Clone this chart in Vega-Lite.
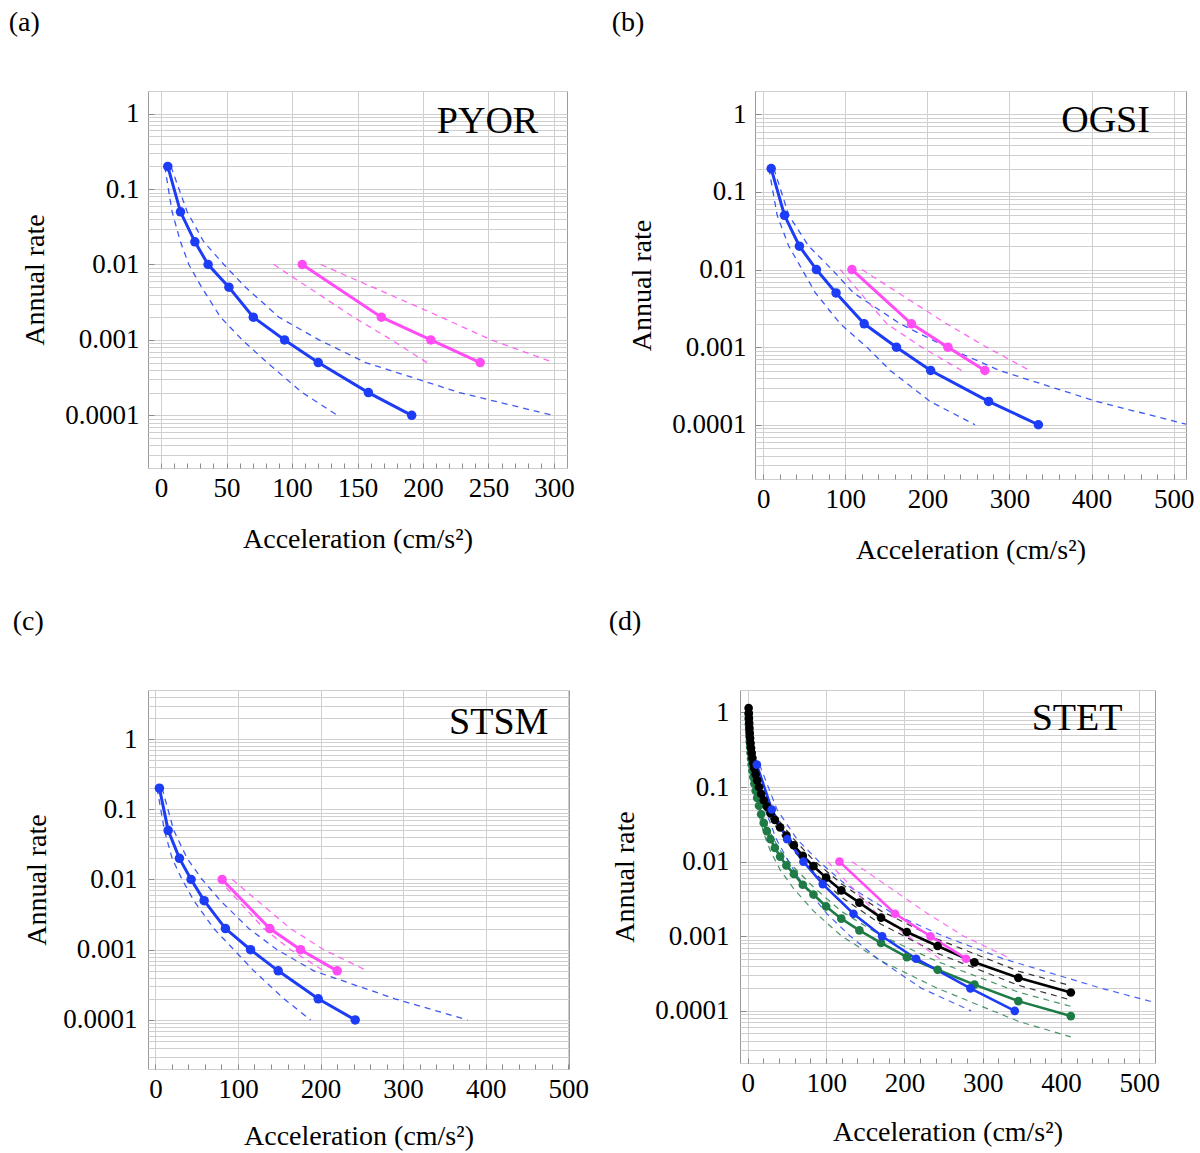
{
"$schema": "https://vega.github.io/schema/vega-lite/v6.json",
"background": "white",
"padding": {"left": 8, "top": 8, "right": 2, "bottom": 0},
"config": {
  "font": "Liberation Serif",
  "view": {"stroke": "#9a9a9a", "strokeWidth": 1},
  "axis": {"labelFont": "Liberation Serif", "titleFont": "Liberation Serif", "labelFontSize": 27, "titleFontSize": 28, "titleFontWeight": "normal", "labelColor": "#000", "titleColor": "#000", "domain": false, "gridColor": "#cfcfcf", "gridWidth": 1, "tickColor": "#8a8a8a", "labelFlush": false, "labelOverlap": false},
  "title": {"font": "Liberation Serif", "fontSize": 28, "fontWeight": "normal", "color": "#000", "anchor": "start", "frame": "bounds", "offset": 40}
},
"datasets": {
 "a": [
  {"series":"blue","kind":"lower","acc":2.8,"rate":0.2},{"series":"blue","kind":"lower","acc":8.4,"rate":0.05},{"series":"blue","kind":"lower","acc":14.8,"rate":0.02},{"series":"blue","kind":"lower","acc":21.2,"rate":0.01},{"series":"blue","kind":"lower","acc":30.9,"rate":0.005},{"series":"blue","kind":"lower","acc":45.4,"rate":0.002},{"series":"blue","kind":"lower","acc":62,"rate":0.001},{"series":"blue","kind":"lower","acc":81,"rate":0.0005},{"series":"blue","kind":"lower","acc":107.8,"rate":0.0002},{"series":"blue","kind":"lower","acc":134.6,"rate":0.0001},
  {"series":"blue","kind":"upper","acc":7.5,"rate":0.2},{"series":"blue","kind":"upper","acc":19.9,"rate":0.05},{"series":"blue","kind":"upper","acc":32.6,"rate":0.02},{"series":"blue","kind":"upper","acc":47.9,"rate":0.01},{"series":"blue","kind":"upper","acc":64.5,"rate":0.005},{"series":"blue","kind":"upper","acc":90,"rate":0.002},{"series":"blue","kind":"upper","acc":120.6,"rate":0.001},{"series":"blue","kind":"upper","acc":156.3,"rate":0.0005},{"series":"blue","kind":"upper","acc":228,"rate":0.0002},{"series":"blue","kind":"upper","acc":299,"rate":0.0001},
  {"series":"pink","kind":"lower","acc":86,"rate":0.01},{"series":"pink","kind":"lower","acc":147,"rate":0.002},{"series":"pink","kind":"lower","acc":176,"rate":0.001},{"series":"pink","kind":"lower","acc":203,"rate":0.0005},
  {"series":"pink","kind":"upper","acc":122,"rate":0.01},{"series":"pink","kind":"upper","acc":214,"rate":0.002},{"series":"pink","kind":"upper","acc":252,"rate":0.001},{"series":"pink","kind":"upper","acc":300,"rate":0.0005},
  {"series":"blue","kind":"main","acc":5.1,"rate":0.2},{"series":"blue","kind":"main","acc":14.8,"rate":0.05},{"series":"blue","kind":"main","acc":25.8,"rate":0.02},{"series":"blue","kind":"main","acc":35.9,"rate":0.01},{"series":"blue","kind":"main","acc":51.8,"rate":0.005},{"series":"blue","kind":"main","acc":70.4,"rate":0.002},{"series":"blue","kind":"main","acc":94.3,"rate":0.001},{"series":"blue","kind":"main","acc":120,"rate":0.0005},{"series":"blue","kind":"main","acc":158.3,"rate":0.0002},{"series":"blue","kind":"main","acc":191.4,"rate":0.0001},
  {"series":"pink","kind":"main","acc":107.8,"rate":0.01},{"series":"pink","kind":"main","acc":168.2,"rate":0.002},{"series":"pink","kind":"main","acc":206,"rate":0.001},{"series":"pink","kind":"main","acc":243.7,"rate":0.0005}
 ],
 "b": [
  {"series":"blue","kind":"lower","acc":6.9,"rate":0.2},{"series":"blue","kind":"lower","acc":17,"rate":0.05},{"series":"blue","kind":"lower","acc":31.2,"rate":0.02},{"series":"blue","kind":"lower","acc":47.4,"rate":0.01},{"series":"blue","kind":"lower","acc":63.6,"rate":0.005},{"series":"blue","kind":"lower","acc":93.9,"rate":0.002},{"series":"blue","kind":"lower","acc":126.3,"rate":0.001},{"series":"blue","kind":"lower","acc":154.7,"rate":0.0005},{"series":"blue","kind":"lower","acc":203.2,"rate":0.0002},{"series":"blue","kind":"lower","acc":258,"rate":0.0001},
  {"series":"blue","kind":"upper","acc":13,"rate":0.2},{"series":"blue","kind":"upper","acc":31.2,"rate":0.05},{"series":"blue","kind":"upper","acc":55.5,"rate":0.02},{"series":"blue","kind":"upper","acc":83.8,"rate":0.01},{"series":"blue","kind":"upper","acc":110,"rate":0.005},{"series":"blue","kind":"upper","acc":166.8,"rate":0.002},{"series":"blue","kind":"upper","acc":223.5,"rate":0.001},{"series":"blue","kind":"upper","acc":288,"rate":0.0005},{"series":"blue","kind":"upper","acc":405.7,"rate":0.0002},{"series":"blue","kind":"upper","acc":518,"rate":0.0001},
  {"series":"pink","kind":"lower","acc":93.9,"rate":0.01},{"series":"pink","kind":"lower","acc":150.6,"rate":0.002},{"series":"pink","kind":"lower","acc":193,"rate":0.001},{"series":"pink","kind":"lower","acc":241.7,"rate":0.0005},
  {"series":"pink","kind":"upper","acc":120.2,"rate":0.01},{"series":"pink","kind":"upper","acc":223.5,"rate":0.002},{"series":"pink","kind":"upper","acc":272,"rate":0.001},{"series":"pink","kind":"upper","acc":324.7,"rate":0.0005},
  {"series":"blue","kind":"main","acc":9.7,"rate":0.2},{"series":"blue","kind":"main","acc":25.9,"rate":0.05},{"series":"blue","kind":"main","acc":44.1,"rate":0.02},{"series":"blue","kind":"main","acc":64.8,"rate":0.01},{"series":"blue","kind":"main","acc":88.7,"rate":0.005},{"series":"blue","kind":"main","acc":123,"rate":0.002},{"series":"blue","kind":"main","acc":162.3,"rate":0.001},{"series":"blue","kind":"main","acc":204,"rate":0.0005},{"series":"blue","kind":"main","acc":274.5,"rate":0.0002},{"series":"blue","kind":"main","acc":335.2,"rate":0.0001},
  {"series":"pink","kind":"main","acc":108.1,"rate":0.01},{"series":"pink","kind":"main","acc":180.6,"rate":0.002},{"series":"pink","kind":"main","acc":225,"rate":0.001},{"series":"pink","kind":"main","acc":270,"rate":0.0005}
 ],
 "c": [
  {"series":"blue","kind":"lower","acc":2,"rate":0.2},{"series":"blue","kind":"lower","acc":10.9,"rate":0.05},{"series":"blue","kind":"lower","acc":20.2,"rate":0.02},{"series":"blue","kind":"lower","acc":32.3,"rate":0.01},{"series":"blue","kind":"lower","acc":46.5,"rate":0.005},{"series":"blue","kind":"lower","acc":70.7,"rate":0.002},{"series":"blue","kind":"lower","acc":95,"rate":0.001},{"series":"blue","kind":"lower","acc":119.2,"rate":0.0005},{"series":"blue","kind":"lower","acc":155.6,"rate":0.0002},{"series":"blue","kind":"lower","acc":187.9,"rate":0.0001},
  {"series":"blue","kind":"upper","acc":8,"rate":0.2},{"series":"blue","kind":"upper","acc":22.2,"rate":0.05},{"series":"blue","kind":"upper","acc":38.4,"rate":0.02},{"series":"blue","kind":"upper","acc":56.6,"rate":0.01},{"series":"blue","kind":"upper","acc":78.8,"rate":0.005},{"series":"blue","kind":"upper","acc":113.1,"rate":0.002},{"series":"blue","kind":"upper","acc":147.5,"rate":0.001},{"series":"blue","kind":"upper","acc":192,"rate":0.0005},{"series":"blue","kind":"upper","acc":290,"rate":0.0002},{"series":"blue","kind":"upper","acc":378,"rate":0.0001},
  {"series":"pink","kind":"lower","acc":76.8,"rate":0.01},{"series":"pink","kind":"lower","acc":131.3,"rate":0.002},{"series":"pink","kind":"lower","acc":163.6,"rate":0.001},{"series":"pink","kind":"lower","acc":204,"rate":0.0005},
  {"series":"pink","kind":"upper","acc":93,"rate":0.01},{"series":"pink","kind":"upper","acc":163.6,"rate":0.002},{"series":"pink","kind":"upper","acc":204,"rate":0.001},{"series":"pink","kind":"upper","acc":256.6,"rate":0.0005},
  {"series":"blue","kind":"main","acc":4.8,"rate":0.2},{"series":"blue","kind":"main","acc":15.4,"rate":0.05},{"series":"blue","kind":"main","acc":29.1,"rate":0.02},{"series":"blue","kind":"main","acc":43.2,"rate":0.01},{"series":"blue","kind":"main","acc":59,"rate":0.005},{"series":"blue","kind":"main","acc":84.8,"rate":0.002},{"series":"blue","kind":"main","acc":115.2,"rate":0.001},{"series":"blue","kind":"main","acc":148.7,"rate":0.0005},{"series":"blue","kind":"main","acc":197.2,"rate":0.0002},{"series":"blue","kind":"main","acc":242,"rate":0.0001},
  {"series":"pink","kind":"main","acc":80.8,"rate":0.01},{"series":"pink","kind":"main","acc":138.6,"rate":0.002},{"series":"pink","kind":"main","acc":175.8,"rate":0.001},{"series":"pink","kind":"main","acc":220.2,"rate":0.0005}
 ],
 "d": [
  {"series":"green","kind":"lower","acc":1,"rate":0.891},{"series":"green","kind":"lower","acc":2.031,"rate":0.432},{"series":"green","kind":"lower","acc":4.125,"rate":0.204},{"series":"green","kind":"lower","acc":7.017,"rate":0.111},{"series":"green","kind":"lower","acc":10,"rate":0.0708},{"series":"green","kind":"lower","acc":14.25,"rate":0.0427},{"series":"green","kind":"lower","acc":20.31,"rate":0.024},{"series":"green","kind":"lower","acc":28.94,"rate":0.0138},{"series":"green","kind":"lower","acc":41.25,"rate":0.00776},{"series":"green","kind":"lower","acc":58.78,"rate":0.00432},{"series":"green","kind":"lower","acc":83.77,"rate":0.00219},{"series":"green","kind":"lower","acc":119.4,"rate":0.00101},{"series":"green","kind":"lower","acc":170.1,"rate":0.000468},{"series":"green","kind":"lower","acc":242.4,"rate":0.0002},{"series":"green","kind":"lower","acc":345.5,"rate":0.0000724},{"series":"green","kind":"lower","acc":412.5,"rate":0.0000447},
  {"series":"green","kind":"upper","acc":1,"rate":1.0},{"series":"green","kind":"upper","acc":2.031,"rate":0.519},{"series":"green","kind":"upper","acc":4.125,"rate":0.263},{"series":"green","kind":"upper","acc":7.017,"rate":0.153},{"series":"green","kind":"upper","acc":10,"rate":0.1},{"series":"green","kind":"upper","acc":14.25,"rate":0.0646},{"series":"green","kind":"upper","acc":20.31,"rate":0.0389},{"series":"green","kind":"upper","acc":28.94,"rate":0.024},{"series":"green","kind":"upper","acc":41.25,"rate":0.0141},{"series":"green","kind":"upper","acc":58.78,"rate":0.00841},{"series":"green","kind":"upper","acc":83.77,"rate":0.00457},{"series":"green","kind":"upper","acc":119.4,"rate":0.00216},{"series":"green","kind":"upper","acc":170.1,"rate":0.00102},{"series":"green","kind":"upper","acc":242.4,"rate":0.000457},{"series":"green","kind":"upper","acc":345.5,"rate":0.000178},{"series":"green","kind":"upper","acc":412.5,"rate":0.000115},
  {"series":"black","kind":"lower","acc":1,"rate":1.096},{"series":"black","kind":"lower","acc":2.031,"rate":0.578},{"series":"black","kind":"lower","acc":4.125,"rate":0.305},{"series":"black","kind":"lower","acc":7.017,"rate":0.186},{"series":"black","kind":"lower","acc":10,"rate":0.132},{"series":"black","kind":"lower","acc":14.25,"rate":0.0871},{"series":"black","kind":"lower","acc":20.31,"rate":0.0579},{"series":"black","kind":"lower","acc":28.94,"rate":0.038},{"series":"black","kind":"lower","acc":41.25,"rate":0.0245},{"series":"black","kind":"lower","acc":58.78,"rate":0.0138},{"series":"black","kind":"lower","acc":83.77,"rate":0.00724},{"series":"black","kind":"lower","acc":119.4,"rate":0.00335},{"series":"black","kind":"lower","acc":170.1,"rate":0.00145},{"series":"black","kind":"lower","acc":242.4,"rate":0.000589},{"series":"black","kind":"lower","acc":345.5,"rate":0.00022},{"series":"black","kind":"lower","acc":412.5,"rate":0.00014},
  {"series":"black","kind":"upper","acc":1,"rate":1.202},{"series":"black","kind":"upper","acc":2.031,"rate":0.664},{"series":"black","kind":"upper","acc":4.125,"rate":0.366},{"series":"black","kind":"upper","acc":7.017,"rate":0.234},{"series":"black","kind":"upper","acc":10,"rate":0.166},{"series":"black","kind":"upper","acc":14.25,"rate":0.115},{"series":"black","kind":"upper","acc":20.31,"rate":0.0764},{"series":"black","kind":"upper","acc":28.94,"rate":0.0525},{"series":"black","kind":"upper","acc":41.25,"rate":0.0339},{"series":"black","kind":"upper","acc":58.78,"rate":0.02},{"series":"black","kind":"upper","acc":83.77,"rate":0.0105},{"series":"black","kind":"upper","acc":119.4,"rate":0.00507},{"series":"black","kind":"upper","acc":170.1,"rate":0.00219},{"series":"black","kind":"upper","acc":242.4,"rate":0.000912},{"series":"black","kind":"upper","acc":345.5,"rate":0.000341},{"series":"black","kind":"upper","acc":412.5,"rate":0.000217},
  {"series":"blue","kind":"lower","acc":8.5,"rate":0.2},{"series":"blue","kind":"lower","acc":22,"rate":0.05},{"series":"blue","kind":"lower","acc":36.5,"rate":0.02},{"series":"blue","kind":"lower","acc":52,"rate":0.01},{"series":"blue","kind":"lower","acc":70,"rate":0.005},{"series":"blue","kind":"lower","acc":101,"rate":0.002},{"series":"blue","kind":"lower","acc":131,"rate":0.001},{"series":"blue","kind":"lower","acc":166,"rate":0.0005},{"series":"blue","kind":"lower","acc":222,"rate":0.0002},{"series":"blue","kind":"lower","acc":285,"rate":0.0001},
  {"series":"blue","kind":"upper","acc":15,"rate":0.2},{"series":"blue","kind":"upper","acc":37.3,"rate":0.05},{"series":"blue","kind":"upper","acc":62.8,"rate":0.02},{"series":"blue","kind":"upper","acc":91,"rate":0.01},{"series":"blue","kind":"upper","acc":124.4,"rate":0.005},{"series":"blue","kind":"upper","acc":186,"rate":0.002},{"series":"blue","kind":"upper","acc":250,"rate":0.001},{"series":"blue","kind":"upper","acc":326,"rate":0.0005},{"series":"blue","kind":"upper","acc":452,"rate":0.0002},{"series":"blue","kind":"upper","acc":560,"rate":0.0001},
  {"series":"pink","kind":"lower","acc":102,"rate":0.01},{"series":"pink","kind":"lower","acc":165,"rate":0.002},{"series":"pink","kind":"lower","acc":205,"rate":0.001},{"series":"pink","kind":"lower","acc":245,"rate":0.0005},
  {"series":"pink","kind":"upper","acc":133,"rate":0.01},{"series":"pink","kind":"upper","acc":230,"rate":0.002},{"series":"pink","kind":"upper","acc":276,"rate":0.001},{"series":"pink","kind":"upper","acc":336,"rate":0.0005},
  {"series":"green","kind":"main","acc":1,"rate":0.955},{"series":"green","kind":"main","acc":1.194,"rate":0.813},{"series":"green","kind":"main","acc":1.425,"rate":0.684},{"series":"green","kind":"main","acc":1.701,"rate":0.575},{"series":"green","kind":"main","acc":2.031,"rate":0.484},{"series":"green","kind":"main","acc":2.424,"rate":0.407},{"series":"green","kind":"main","acc":2.894,"rate":0.343},{"series":"green","kind":"main","acc":3.455,"rate":0.288},{"series":"green","kind":"main","acc":4.125,"rate":0.24},{"series":"green","kind":"main","acc":4.924,"rate":0.2},{"series":"green","kind":"main","acc":5.878,"rate":0.166},{"series":"green","kind":"main","acc":7.017,"rate":0.136},{"series":"green","kind":"main","acc":8.377,"rate":0.111},{"series":"green","kind":"main","acc":10,"rate":0.0891},{"series":"green","kind":"main","acc":11.94,"rate":0.0716},{"series":"green","kind":"main","acc":14.25,"rate":0.0562},{"series":"green","kind":"main","acc":17.01,"rate":0.0432},{"series":"green","kind":"main","acc":20.31,"rate":0.0331},{"series":"green","kind":"main","acc":24.24,"rate":0.0257},{"series":"green","kind":"main","acc":28.94,"rate":0.02},{"series":"green","kind":"main","acc":34.55,"rate":0.0153},{"series":"green","kind":"main","acc":41.25,"rate":0.0117},{"series":"green","kind":"main","acc":49.24,"rate":0.00891},{"series":"green","kind":"main","acc":58.78,"rate":0.00684},{"series":"green","kind":"main","acc":70.17,"rate":0.0049},{"series":"green","kind":"main","acc":83.77,"rate":0.00363},{"series":"green","kind":"main","acc":100,"rate":0.00251},{"series":"green","kind":"main","acc":119.4,"rate":0.00172},{"series":"green","kind":"main","acc":142.5,"rate":0.0012},{"series":"green","kind":"main","acc":170.1,"rate":0.000813},{"series":"green","kind":"main","acc":203.1,"rate":0.000525},{"series":"green","kind":"main","acc":242.4,"rate":0.000355},{"series":"green","kind":"main","acc":289.4,"rate":0.000225},{"series":"green","kind":"main","acc":345.5,"rate":0.000135},{"series":"green","kind":"main","acc":412.5,"rate":0.0000851},
  {"series":"black","kind":"main","acc":1,"rate":1.148},{"series":"black","kind":"main","acc":1.194,"rate":0.984},{"series":"black","kind":"main","acc":1.425,"rate":0.843},{"series":"black","kind":"main","acc":1.701,"rate":0.723},{"series":"black","kind":"main","acc":2.031,"rate":0.619},{"series":"black","kind":"main","acc":2.424,"rate":0.531},{"series":"black","kind":"main","acc":2.894,"rate":0.455},{"series":"black","kind":"main","acc":3.455,"rate":0.39},{"series":"black","kind":"main","acc":4.125,"rate":0.334},{"series":"black","kind":"main","acc":4.924,"rate":0.286},{"series":"black","kind":"main","acc":5.878,"rate":0.245},{"series":"black","kind":"main","acc":7.017,"rate":0.209},{"series":"black","kind":"main","acc":8.377,"rate":0.178},{"series":"black","kind":"main","acc":10,"rate":0.148},{"series":"black","kind":"main","acc":11.94,"rate":0.123},{"series":"black","kind":"main","acc":14.25,"rate":0.1},{"series":"black","kind":"main","acc":17.01,"rate":0.0813},{"series":"black","kind":"main","acc":20.31,"rate":0.0665},{"series":"black","kind":"main","acc":24.24,"rate":0.055},{"series":"black","kind":"main","acc":28.94,"rate":0.0447},{"series":"black","kind":"main","acc":34.55,"rate":0.0363},{"series":"black","kind":"main","acc":41.25,"rate":0.0288},{"series":"black","kind":"main","acc":49.24,"rate":0.0224},{"series":"black","kind":"main","acc":58.78,"rate":0.0166},{"series":"black","kind":"main","acc":70.17,"rate":0.012},{"series":"black","kind":"main","acc":83.77,"rate":0.00871},{"series":"black","kind":"main","acc":100,"rate":0.0061},{"series":"black","kind":"main","acc":119.4,"rate":0.00412},{"series":"black","kind":"main","acc":142.5,"rate":0.00282},{"series":"black","kind":"main","acc":170.1,"rate":0.00178},{"series":"black","kind":"main","acc":203.1,"rate":0.00114},{"series":"black","kind":"main","acc":242.4,"rate":0.000741},{"series":"black","kind":"main","acc":289.4,"rate":0.000447},{"series":"black","kind":"main","acc":345.5,"rate":0.000277},{"series":"black","kind":"main","acc":412.5,"rate":0.000176},
  {"series":"blue","kind":"main","acc":11.5,"rate":0.2},{"series":"blue","kind":"main","acc":30.6,"rate":0.05},{"series":"blue","kind":"main","acc":50.2,"rate":0.02},{"series":"blue","kind":"main","acc":71,"rate":0.01},{"series":"blue","kind":"main","acc":95.7,"rate":0.005},{"series":"blue","kind":"main","acc":134.9,"rate":0.002},{"series":"blue","kind":"main","acc":171.5,"rate":0.001},{"series":"blue","kind":"main","acc":214.9,"rate":0.0005},{"series":"blue","kind":"main","acc":284.3,"rate":0.0002},{"series":"blue","kind":"main","acc":340.9,"rate":0.0001},
  {"series":"pink","kind":"main","acc":117,"rate":0.01},{"series":"pink","kind":"main","acc":188,"rate":0.002},{"series":"pink","kind":"main","acc":233.2,"rate":0.001},{"series":"pink","kind":"main","acc":278.7,"rate":0.0005}
 ]
},
"spacing": 42,
"vconcat": [
 {"spacing": 36, "hconcat": [
  {"title": {"text": "(a)", "dx": -13}, "width": 419, "height": 377,
   "layer": [
    {"data": {"name": "a"},
     "encoding": {
      "x": {"field": "acc", "type": "quantitative", "scale": {"domain": [-10, 310], "nice": false, "zero": false},
        "axis": {"title": "Acceleration (cm/s²)", "values": [0,10,20,30,40,50,60,70,80,90,100,110,120,130,140,150,160,170,180,190,200,210,220,230,240,250,260,270,280,290,300], "labelExpr": "datum.value % 50 === 0 ? datum.label : ''", "gridOpacity": {"condition": {"test": "datum.value % 50 === 0", "value": 1}, "value": 0}, "tickSize": -5, "labelPadding": 12, "titlePadding": 24}},
      "y": {"field": "rate", "type": "quantitative", "scale": {"type": "log", "domain": [0.00002, 2], "nice": false},
        "axis": {"title": "Annual rate", "values": [0.00002,0.00003,0.00004,0.00005,0.00006,0.00007,0.00008,0.00009,0.0001,0.0002,0.0003,0.0004,0.0005,0.0006,0.0007,0.0008,0.0009,0.001,0.002,0.003,0.004,0.005,0.006,0.007,0.008,0.009,0.01,0.02,0.03,0.04,0.05,0.06,0.07,0.08,0.09,0.1,0.2,0.3,0.4,0.5,0.6,0.7,0.8,0.9,1,2], "format": "~g", "labelExpr": "abs(log(datum.value)/LN10 - round(log(datum.value)/LN10)) < 0.0001 ? datum.label : ''", "tickSize": -6, "tickOpacity": {"condition": {"test": "abs(log(datum.value)/LN10 - round(log(datum.value)/LN10)) < 0.0001", "value": 1}, "value": 0}, "labelPadding": 15, "titlePadding": 15}},
      "color": {"field": "series", "type": "nominal", "scale": {"domain": ["green","black","blue","pink"], "range": ["#1e7b45","#000000","#1c3cf5","#ff4cf5"]}, "legend": null}},
     "layer": [
      {"transform": [{"filter": "datum.kind != 'main'"}], "mark": {"type": "line", "strokeWidth": 1.3, "strokeDash": [6,5], "opacity": 0.85, "clip": true}, "encoding": {"detail": {"field": "kind"}}},
      {"transform": [{"filter": "datum.kind == 'main'"}], "mark": {"type": "line", "strokeWidth": 3, "clip": true}},
      {"transform": [{"filter": "datum.kind == 'main'"}], "mark": {"type": "circle", "size": 90, "opacity": 1, "clip": true}}
     ]},
    {"data": {"values": [{"station": "PYOR"}]}, "mark": {"type": "text", "align": "right", "baseline": "alphabetic", "fontSize": 38, "font": "Liberation Serif", "color": "#000"},
     "encoding": {
      "x": {"datum": 288, "type": "quantitative", "scale": {"domain": [-10, 310], "nice": false, "zero": false},
        "axis": {"title": "Acceleration (cm/s²)", "values": [0,10,20,30,40,50,60,70,80,90,100,110,120,130,140,150,160,170,180,190,200,210,220,230,240,250,260,270,280,290,300], "labelExpr": "datum.value % 50 === 0 ? datum.label : ''", "gridOpacity": {"condition": {"test": "datum.value % 50 === 0", "value": 1}, "value": 0}, "tickSize": -5, "labelPadding": 12, "titlePadding": 24}},
      "y": {"datum": 0.55, "type": "quantitative", "scale": {"type": "log", "domain": [0.00002, 2], "nice": false},
        "axis": {"title": "Annual rate", "values": [0.00002,0.00003,0.00004,0.00005,0.00006,0.00007,0.00008,0.00009,0.0001,0.0002,0.0003,0.0004,0.0005,0.0006,0.0007,0.0008,0.0009,0.001,0.002,0.003,0.004,0.005,0.006,0.007,0.008,0.009,0.01,0.02,0.03,0.04,0.05,0.06,0.07,0.08,0.09,0.1,0.2,0.3,0.4,0.5,0.6,0.7,0.8,0.9,1,2], "format": "~g", "labelExpr": "abs(log(datum.value)/LN10 - round(log(datum.value)/LN10)) < 0.0001 ? datum.label : ''", "tickSize": -6, "tickOpacity": {"condition": {"test": "abs(log(datum.value)/LN10 - round(log(datum.value)/LN10)) < 0.0001", "value": 1}, "value": 0}, "labelPadding": 15, "titlePadding": 15}},
      "text": {"field": "station"}}}
   ]},
  {"title": {"text": "(b)", "dx": -17}, "width": 431, "height": 388,
   "layer": [
    {"data": {"name": "b"},
     "encoding": {
      "x": {"field": "acc", "type": "quantitative", "scale": {"domain": [-10, 515], "nice": false, "zero": false},
        "axis": {"title": "Acceleration (cm/s²)", "values": [0,20,40,60,80,100,120,140,160,180,200,220,240,260,280,300,320,340,360,380,400,420,440,460,480,500], "labelExpr": "datum.value % 100 === 0 ? datum.label : ''", "gridOpacity": {"condition": {"test": "datum.value % 100 === 0", "value": 1}, "value": 0}, "tickSize": -5, "labelPadding": 12, "titlePadding": 24}},
      "y": {"field": "rate", "type": "quantitative", "scale": {"type": "log", "domain": [0.00002, 2], "nice": false},
        "axis": {"title": "Annual rate", "values": [0.00002,0.00003,0.00004,0.00005,0.00006,0.00007,0.00008,0.00009,0.0001,0.0002,0.0003,0.0004,0.0005,0.0006,0.0007,0.0008,0.0009,0.001,0.002,0.003,0.004,0.005,0.006,0.007,0.008,0.009,0.01,0.02,0.03,0.04,0.05,0.06,0.07,0.08,0.09,0.1,0.2,0.3,0.4,0.5,0.6,0.7,0.8,0.9,1,2], "format": "~g", "labelExpr": "abs(log(datum.value)/LN10 - round(log(datum.value)/LN10)) < 0.0001 ? datum.label : ''", "tickSize": -6, "tickOpacity": {"condition": {"test": "abs(log(datum.value)/LN10 - round(log(datum.value)/LN10)) < 0.0001", "value": 1}, "value": 0}, "labelPadding": 15, "titlePadding": 15}},
      "color": {"field": "series", "type": "nominal", "scale": {"domain": ["green","black","blue","pink"], "range": ["#1e7b45","#000000","#1c3cf5","#ff4cf5"]}, "legend": null}},
     "layer": [
      {"transform": [{"filter": "datum.kind != 'main'"}], "mark": {"type": "line", "strokeWidth": 1.3, "strokeDash": [6,5], "opacity": 0.85, "clip": true}, "encoding": {"detail": {"field": "kind"}}},
      {"transform": [{"filter": "datum.kind == 'main'"}], "mark": {"type": "line", "strokeWidth": 3, "clip": true}},
      {"transform": [{"filter": "datum.kind == 'main'"}], "mark": {"type": "circle", "size": 90, "opacity": 1, "clip": true}}
     ]},
    {"data": {"values": [{"station": "OGSI"}]}, "mark": {"type": "text", "align": "right", "baseline": "alphabetic", "fontSize": 38, "font": "Liberation Serif", "color": "#000"},
     "encoding": {
      "x": {"datum": 471, "type": "quantitative", "scale": {"domain": [-10, 515], "nice": false, "zero": false},
        "axis": {"title": "Acceleration (cm/s²)", "values": [0,20,40,60,80,100,120,140,160,180,200,220,240,260,280,300,320,340,360,380,400,420,440,460,480,500], "labelExpr": "datum.value % 100 === 0 ? datum.label : ''", "gridOpacity": {"condition": {"test": "datum.value % 100 === 0", "value": 1}, "value": 0}, "tickSize": -5, "labelPadding": 12, "titlePadding": 24}},
      "y": {"datum": 0.59, "type": "quantitative", "scale": {"type": "log", "domain": [0.00002, 2], "nice": false},
        "axis": {"title": "Annual rate", "values": [0.00002,0.00003,0.00004,0.00005,0.00006,0.00007,0.00008,0.00009,0.0001,0.0002,0.0003,0.0004,0.0005,0.0006,0.0007,0.0008,0.0009,0.001,0.002,0.003,0.004,0.005,0.006,0.007,0.008,0.009,0.01,0.02,0.03,0.04,0.05,0.06,0.07,0.08,0.09,0.1,0.2,0.3,0.4,0.5,0.6,0.7,0.8,0.9,1,2], "format": "~g", "labelExpr": "abs(log(datum.value)/LN10 - round(log(datum.value)/LN10)) < 0.0001 ? datum.label : ''", "tickSize": -6, "tickOpacity": {"condition": {"test": "abs(log(datum.value)/LN10 - round(log(datum.value)/LN10)) < 0.0001", "value": 1}, "value": 0}, "labelPadding": 15, "titlePadding": 15}},
      "text": {"field": "station"}}}
   ]}
 ]},
 {"spacing": 19, "hconcat": [
  {"title": {"text": "(c)", "dx": -11}, "width": 421, "height": 379,
   "layer": [
    {"data": {"name": "c"},
     "encoding": {
      "x": {"field": "acc", "type": "quantitative", "scale": {"domain": [-9, 501], "nice": false, "zero": false},
        "axis": {"title": "Acceleration (cm/s²)", "values": [0,20,40,60,80,100,120,140,160,180,200,220,240,260,280,300,320,340,360,380,400,420,440,460,480,500], "labelExpr": "datum.value % 100 === 0 ? datum.label : ''", "gridOpacity": {"condition": {"test": "datum.value % 100 === 0", "value": 1}, "value": 0}, "tickSize": -5, "labelPadding": 12, "titlePadding": 20}},
      "y": {"field": "rate", "type": "quantitative", "scale": {"type": "log", "domain": [0.00002, 5], "nice": false},
        "axis": {"title": "Annual rate", "values": [0.00002,0.00003,0.00004,0.00005,0.00006,0.00007,0.00008,0.00009,0.0001,0.0002,0.0003,0.0004,0.0005,0.0006,0.0007,0.0008,0.0009,0.001,0.002,0.003,0.004,0.005,0.006,0.007,0.008,0.009,0.01,0.02,0.03,0.04,0.05,0.06,0.07,0.08,0.09,0.1,0.2,0.3,0.4,0.5,0.6,0.7,0.8,0.9,1,2,3,4,5], "format": "~g", "labelExpr": "abs(log(datum.value)/LN10 - round(log(datum.value)/LN10)) < 0.0001 ? datum.label : ''", "tickSize": -6, "tickOpacity": {"condition": {"test": "abs(log(datum.value)/LN10 - round(log(datum.value)/LN10)) < 0.0001", "value": 1}, "value": 0}, "labelPadding": 17, "titlePadding": 11}},
      "color": {"field": "series", "type": "nominal", "scale": {"domain": ["green","black","blue","pink"], "range": ["#1e7b45","#000000","#1c3cf5","#ff4cf5"]}, "legend": null}},
     "layer": [
      {"transform": [{"filter": "datum.kind != 'main'"}], "mark": {"type": "line", "strokeWidth": 1.3, "strokeDash": [6,5], "opacity": 0.85, "clip": true}, "encoding": {"detail": {"field": "kind"}}},
      {"transform": [{"filter": "datum.kind == 'main'"}], "mark": {"type": "line", "strokeWidth": 3, "clip": true}},
      {"transform": [{"filter": "datum.kind == 'main'"}], "mark": {"type": "circle", "size": 90, "opacity": 1, "clip": true}}
     ]},
    {"data": {"values": [{"station": "STSM"}]}, "mark": {"type": "text", "align": "right", "baseline": "alphabetic", "fontSize": 38, "font": "Liberation Serif", "color": "#000"},
     "encoding": {
      "x": {"datum": 476, "type": "quantitative", "scale": {"domain": [-9, 501], "nice": false, "zero": false},
        "axis": {"title": "Acceleration (cm/s²)", "values": [0,20,40,60,80,100,120,140,160,180,200,220,240,260,280,300,320,340,360,380,400,420,440,460,480,500], "labelExpr": "datum.value % 100 === 0 ? datum.label : ''", "gridOpacity": {"condition": {"test": "datum.value % 100 === 0", "value": 1}, "value": 0}, "tickSize": -5, "labelPadding": 12, "titlePadding": 20}},
      "y": {"datum": 1.18, "type": "quantitative", "scale": {"type": "log", "domain": [0.00002, 5], "nice": false},
        "axis": {"title": "Annual rate", "values": [0.00002,0.00003,0.00004,0.00005,0.00006,0.00007,0.00008,0.00009,0.0001,0.0002,0.0003,0.0004,0.0005,0.0006,0.0007,0.0008,0.0009,0.001,0.002,0.003,0.004,0.005,0.006,0.007,0.008,0.009,0.01,0.02,0.03,0.04,0.05,0.06,0.07,0.08,0.09,0.1,0.2,0.3,0.4,0.5,0.6,0.7,0.8,0.9,1,2,3,4,5], "format": "~g", "labelExpr": "abs(log(datum.value)/LN10 - round(log(datum.value)/LN10)) < 0.0001 ? datum.label : ''", "tickSize": -6, "tickOpacity": {"condition": {"test": "abs(log(datum.value)/LN10 - round(log(datum.value)/LN10)) < 0.0001", "value": 1}, "value": 0}, "labelPadding": 17, "titlePadding": 11}},
      "text": {"field": "station"}}}
   ]},
  {"title": {"text": "(d)", "dx": -3}, "width": 415, "height": 373,
   "layer": [
    {"data": {"name": "d"},
     "encoding": {
      "x": {"field": "acc", "type": "quantitative", "scale": {"domain": [-10, 520], "nice": false, "zero": false},
        "axis": {"title": "Acceleration (cm/s²)", "values": [0,20,40,60,80,100,120,140,160,180,200,220,240,260,280,300,320,340,360,380,400,420,440,460,480,500], "labelExpr": "datum.value % 100 === 0 ? datum.label : ''", "gridOpacity": {"condition": {"test": "datum.value % 100 === 0", "value": 1}, "value": 0}, "tickSize": -5, "labelPadding": 12, "titlePadding": 22}},
      "y": {"field": "rate", "type": "quantitative", "scale": {"type": "log", "domain": [0.00002, 2], "nice": false},
        "axis": {"title": "Annual rate", "values": [0.00002,0.00003,0.00004,0.00005,0.00006,0.00007,0.00008,0.00009,0.0001,0.0002,0.0003,0.0004,0.0005,0.0006,0.0007,0.0008,0.0009,0.001,0.002,0.003,0.004,0.005,0.006,0.007,0.008,0.009,0.01,0.02,0.03,0.04,0.05,0.06,0.07,0.08,0.09,0.1,0.2,0.3,0.4,0.5,0.6,0.7,0.8,0.9,1,2], "format": "~g", "labelExpr": "abs(log(datum.value)/LN10 - round(log(datum.value)/LN10)) < 0.0001 ? datum.label : ''", "tickSize": -6, "tickOpacity": {"condition": {"test": "abs(log(datum.value)/LN10 - round(log(datum.value)/LN10)) < 0.0001", "value": 1}, "value": 0}, "labelPadding": 17, "titlePadding": 15}},
      "color": {"field": "series", "type": "nominal", "scale": {"domain": ["green","black","blue","pink"], "range": ["#1e7b45","#000000","#1c3cf5","#ff4cf5"]}, "legend": null}},
     "layer": [
      {"transform": [{"filter": "datum.kind != 'main'"}], "mark": {"type": "line", "strokeWidth": 1.2, "strokeDash": [6,5], "opacity": 0.8, "clip": true}, "encoding": {"detail": {"field": "kind"}}},
      {"transform": [{"filter": "datum.kind == 'main'"}], "mark": {"type": "line", "strokeWidth": 2.6, "clip": true}},
      {"transform": [{"filter": "datum.kind == 'main'"}], "mark": {"type": "circle", "size": 75, "opacity": 1, "clip": true}}
     ]},
    {"data": {"values": [{"station": "STET"}]}, "mark": {"type": "text", "align": "right", "baseline": "alphabetic", "fontSize": 38, "font": "Liberation Serif", "color": "#000"},
     "encoding": {
      "x": {"datum": 478.5, "type": "quantitative", "scale": {"domain": [-10, 520], "nice": false, "zero": false},
        "axis": {"title": "Acceleration (cm/s²)", "values": [0,20,40,60,80,100,120,140,160,180,200,220,240,260,280,300,320,340,360,380,400,420,440,460,480,500], "labelExpr": "datum.value % 100 === 0 ? datum.label : ''", "gridOpacity": {"condition": {"test": "datum.value % 100 === 0", "value": 1}, "value": 0}, "tickSize": -5, "labelPadding": 12, "titlePadding": 22}},
      "y": {"datum": 0.58, "type": "quantitative", "scale": {"type": "log", "domain": [0.00002, 2], "nice": false},
        "axis": {"title": "Annual rate", "values": [0.00002,0.00003,0.00004,0.00005,0.00006,0.00007,0.00008,0.00009,0.0001,0.0002,0.0003,0.0004,0.0005,0.0006,0.0007,0.0008,0.0009,0.001,0.002,0.003,0.004,0.005,0.006,0.007,0.008,0.009,0.01,0.02,0.03,0.04,0.05,0.06,0.07,0.08,0.09,0.1,0.2,0.3,0.4,0.5,0.6,0.7,0.8,0.9,1,2], "format": "~g", "labelExpr": "abs(log(datum.value)/LN10 - round(log(datum.value)/LN10)) < 0.0001 ? datum.label : ''", "tickSize": -6, "tickOpacity": {"condition": {"test": "abs(log(datum.value)/LN10 - round(log(datum.value)/LN10)) < 0.0001", "value": 1}, "value": 0}, "labelPadding": 17, "titlePadding": 15}},
      "text": {"field": "station"}}}
   ]}
 ]}
]
}
